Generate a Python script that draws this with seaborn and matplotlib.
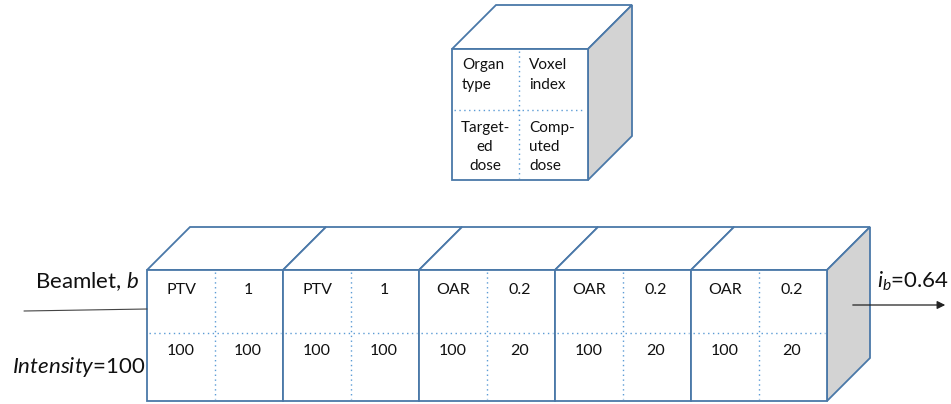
import matplotlib
matplotlib.use("Agg")
import matplotlib.pyplot as plt
from matplotlib.patches import Polygon
import seaborn as sns

# data shown in the voxel boxes
organ_type = ["PTV", "PTV", "OAR", "OAR", "OAR"]
voxel_index = ["1", "1", "0.2", "0.2", "0.2"]
targeted_dose = ["100", "100", "100", "100", "100"]
computed_dose = ["100", "100", "20", "20", "20"]

legend_cells = ["Organ\ntype", "Voxel\nindex", "Target-\ned\ndose", "Comp-\nuted\ndose"]
beam_intensity = 100
beam_out = 0.64

sns.set_theme(style="white")
plt.rcParams["font.family"] = ["Lato", "DejaVu Sans"]
plt.rcParams["mathtext.fontset"] = "custom"
plt.rcParams["mathtext.rm"] = "Lato"
plt.rcParams["mathtext.it"] = "Lato:italic"

edge = "#4a78a8"
dots = "#5b9bd5"
side = "#d3d3d3"
ink = "#111111"

fig = plt.figure(figsize=(9.51, 4.04), dpi=100)
ax = fig.add_axes([0, 0, 1, 1])
ax.set_xlim(0, 951)
ax.set_ylim(404, 0)
ax.axis("off")


def cube(x0, y0, w, h, d, with_side=True):
    # top face
    ax.add_patch(Polygon([(x0, y0), (x0 + d, y0 - d), (x0 + w + d, y0 - d), (x0 + w, y0)],
                         closed=True, fc="white", ec=edge, lw=1.3))
    if with_side:
        ax.add_patch(Polygon([(x0 + w, y0), (x0 + w + d, y0 - d), (x0 + w + d, y0 + h - d), (x0 + w, y0 + h)],
                             closed=True, fc=side, ec=edge, lw=1.3))
    ax.add_patch(Polygon([(x0, y0), (x0 + w, y0), (x0 + w, y0 + h), (x0, y0 + h)],
                         closed=True, fc="white", ec=edge, lw=1.3))


def grid_lines(x0, y0, w, h, ymid):
    ax.plot([x0 + w / 2, x0 + w / 2], [y0 + 2, y0 + h - 2], color=dots, lw=1, ls=(0, (1, 2.5)))
    ax.plot([x0 + 2, x0 + w - 2], [ymid, ymid], color=dots, lw=1, ls=(0, (1, 2.5)))


# legend cube on top
cube(452, 49, 136, 131, 44)
grid_lines(452, 49, 134, 131, 110)
ax.text(462, 75, legend_cells[0], ha="left", va="center", fontsize=11, color=ink, linespacing=1.5)
ax.text(529, 75, legend_cells[1], ha="left", va="center", fontsize=11, color=ink, linespacing=1.5)
ax.text(485, 147, legend_cells[2], ha="center", va="center", fontsize=11, color=ink, linespacing=1.45)
ax.text(529, 147, legend_cells[3], ha="left", va="center", fontsize=11, color=ink, linespacing=1.45)

# row of voxel cubes
bw, bh, d = 136, 131, 43
for i in range(len(organ_type)):
    x0 = 147 + i * bw
    cube(x0, 270, bw, bh, d, with_side=(i == len(organ_type) - 1))
for i in range(len(organ_type)):
    x0 = 147 + i * bw
    grid_lines(x0, 270, bw, bh, 333)
    ax.text(x0 + 34, 290, organ_type[i], ha="center", va="center", fontsize=11.5, color=ink)
    ax.text(x0 + 101, 290, voxel_index[i], ha="center", va="center", fontsize=11.5, color=ink)
    ax.text(x0 + 34, 351, targeted_dose[i], ha="center", va="center", fontsize=11.5, color=ink)
    ax.text(x0 + 101, 351, computed_dose[i], ha="center", va="center", fontsize=11.5, color=ink)

# incoming beamlet
ax.plot([24, 147], [311, 309], color="#444444", lw=0.8)
ax.text(139, 282, r"Beamlet, $b$", ha="right", va="center", fontsize=16, color=ink)
ax.text(145, 367, r"$Intensity$=" + str(beam_intensity), ha="right", va="center", fontsize=16, color=ink)

# outgoing beamlet
ax.annotate("", xy=(948, 305), xytext=(850, 305),
            arrowprops=dict(arrowstyle="-|>", color="#222222", lw=0.9, mutation_scale=12))
ax.text(877, 281, r"$i_b$=" + str(beam_out), ha="left", va="center", fontsize=16, color=ink)

fig.savefig("out.png", dpi=100, facecolor="white")
